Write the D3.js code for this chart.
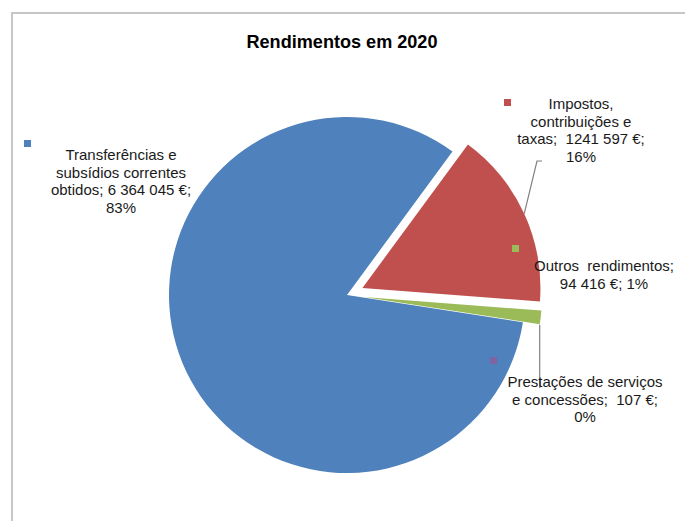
<!DOCTYPE html>
<html lang="pt">
<head>
<meta charset="utf-8">
<title>Rendimentos em 2020</title>
<script src="https://cdn.jsdelivr.net/npm/d3@7"></script>
<style>
  body { margin: 0; background: #fff; }
  svg text { font-family: "Liberation Sans", Arial, sans-serif; }
</style>
</head>
<body>
<script>
// data
var categories = ["Transferências e subsídios correntes obtidos",
                  "Impostos, contribuições e taxas",
                  "Outros rendimentos",
                  "Prestações de serviços e concessões"];
var values = [6364045, 1241597, 94416, 107];
// data label lines as shown on the chart
var labelLines = [
  ["Transferências e", "subsídios correntes", "obtidos; 6 364 045 €;", "83%"],
  ["Impostos,", "contribuições e", "taxas;  1241 597 €;", "16%"],
  ["Outros  rendimentos;", "94 416 €; 1%"],
  ["Prestações de serviços", "e concessões;  107 €;", "0%"]
];
var colors = ["#4F81BD", "#C0504D", "#9BBB59", "#8064A2"];

var w = 685, h = 521;
var cx = 347, cy = 295, r = 178;
var explode = [0, 17, 17, 17];
var rad = Math.PI / 180;

// label placement (centre x, first baseline, key square x/y)
var labelPos = [
  {x: 121, y: 160, kx: 24, ky: 140},
  {x: 581, y: 109, kx: 504, ky: 99},
  {x: 604, y: 271, kx: 512, ky: 245},
  {x: 585, y: 387, kx: 490, ky: 357}
];

var svg = d3.select("body").append("svg")
  .attr("width", w)
  .attr("height", h);

// chart frame
svg.append("path")
  .attr("d", "M12,530 L12,13 L700,13")
  .attr("fill", "none")
  .attr("stroke", "#c6c6c6")
  .attr("stroke-width", 2);

svg.append("text")
  .attr("x", 342)
  .attr("y", 48)
  .attr("text-anchor", "middle")
  .attr("font-size", 19)
  .attr("font-weight", "bold")
  .attr("textLength", 191)
  .attr("lengthAdjust", "spacingAndGlyphs")
  .attr("fill", "#000")
  .text("Rendimentos em 2020");

var pie = d3.pie()
  .sort(null)
  .startAngle(98.8 * rad)
  .endAngle((98.8 + 360) * rad);

var arc = d3.arc().innerRadius(0).outerRadius(r);
var arcs = pie(values);

function offset(d, i) {
  var mid = (d.startAngle + d.endAngle) / 2;
  return [cx + explode[i] * Math.sin(mid), cy - explode[i] * Math.cos(mid)];
}

svg.selectAll("path.slice")
  .data(arcs)
  .enter()
  .append("path")
  .attr("class", "slice")
  .attr("d", arc)
  .attr("transform", function(d, i) { return "translate(" + offset(d, i) + ")"; })
  .attr("fill", function(d, i) { return colors[i]; });

// leader lines (to the mid point of the slice arc)
function arcMid(i) {
  var d = arcs[i], o = offset(d, i);
  var mid = (d.startAngle + d.endAngle) / 2;
  return [o[0] + r * Math.sin(mid), o[1] - r * Math.cos(mid)];
}
var leaders = [
  [[542, 161], [537, 161], arcMid(1)],
  [arcMid(3), [arcMid(3)[0], 388]]
];
svg.selectAll("path.leader")
  .data(leaders)
  .enter()
  .append("path")
  .attr("class", "leader")
  .attr("d", d3.line())
  .attr("fill", "none")
  .attr("stroke", "#808080")
  .attr("stroke-width", 1.2);

// data labels
var labels = svg.selectAll("g.label")
  .data(categories)
  .enter()
  .append("g")
  .attr("class", "label");

labels.append("rect")
  .attr("x", function(d, i) { return labelPos[i].kx; })
  .attr("y", function(d, i) { return labelPos[i].ky; })
  .attr("width", 7)
  .attr("height", 7)
  .attr("fill", function(d, i) { return colors[i]; });

labels.each(function(d, i) {
  var t = d3.select(this).append("text")
    .attr("text-anchor", "middle")
    .attr("font-size", 15)
    .attr("fill", "#1a1a1a")
    .style("white-space", "pre");
  t.selectAll("tspan")
    .data(labelLines[i])
    .enter()
    .append("tspan")
    .attr("x", labelPos[i].x)
    .attr("y", function(l, j) { return labelPos[i].y + j * 17.5; })
    .text(function(l) { return l; });
});
</script>
</body>
</html>
